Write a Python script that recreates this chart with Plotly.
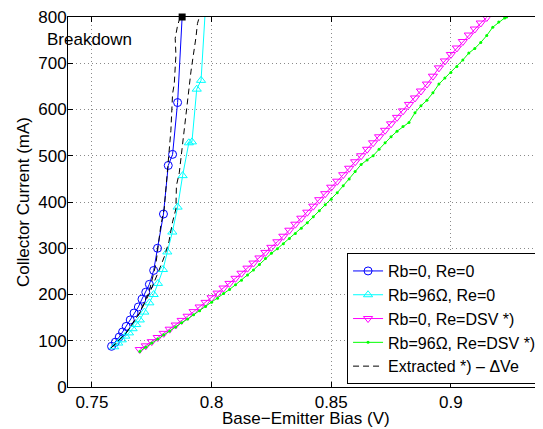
import plotly.graph_objects as go

# ---------------- data ----------------
blue_x = [0.7582, 0.7598, 0.7614, 0.7628, 0.7643, 0.7660, 0.7676, 0.7694, 0.7709,
          0.7725, 0.7740, 0.7758, 0.7774, 0.7799, 0.7819, 0.7837, 0.7858]
blue_y = [88, 97, 108, 119, 131, 145, 160, 173, 190, 205, 222, 252, 300, 374, 479, 503, 615]
blue_end_x = [0.7858, 0.7877]
blue_end_y = [615, 800]

cyan_x = [0.7593, 0.7610, 0.7625, 0.7640, 0.7655, 0.7670, 0.7685, 0.7700, 0.7719, 0.7740,
          0.7758, 0.7776, 0.7797, 0.7815, 0.7836, 0.7858, 0.7879, 0.7905, 0.7918, 0.7938, 0.7956]
cyan_y = [87, 95, 102, 110, 117, 126, 135, 145, 162, 182, 200, 224, 254, 292, 335, 389,
          457, 528, 530, 644, 663]
cyan_end_x = [0.7956, 0.7972]
cyan_end_y = [663, 800]

mag_x = [0.7700, 0.7725, 0.7750, 0.7775, 0.7800, 0.7825, 0.7850, 0.7875, 0.7900, 0.7925,
         0.7950, 0.7975, 0.8000, 0.8025, 0.8050, 0.8075, 0.8100, 0.8125, 0.8150, 0.8175,
         0.8200, 0.8225, 0.8250, 0.8275, 0.8300, 0.8325, 0.8350, 0.8375, 0.8400, 0.8425,
         0.8450, 0.8475, 0.8500, 0.8525, 0.8550, 0.8575, 0.8600, 0.8625, 0.8650, 0.8675,
         0.8700, 0.8725, 0.8750, 0.8775, 0.8800, 0.8825, 0.8850, 0.8875, 0.8900, 0.8925,
         0.8950, 0.8975, 0.9000, 0.9025, 0.9050, 0.9075, 0.9100, 0.9125, 0.9150]
mag_y = [81, 89, 98, 107, 116, 125, 134, 144, 153, 163,
         173, 183, 193, 203, 214, 224, 235, 246, 257, 268,
         279, 291, 302, 314, 326, 339, 352, 365, 378, 391,
         405, 418, 432, 445, 459, 473, 487, 500, 514, 528,
         541, 555, 569, 583, 597, 611, 625, 640, 655, 672,
         690, 705, 719, 733, 747, 761, 774, 787, 799]

green_x = [0.7700, 0.7725, 0.7750, 0.7775, 0.7800, 0.7825, 0.7850, 0.7875, 0.7900, 0.7925,
           0.7950, 0.7975, 0.8000, 0.8025, 0.8050, 0.8075, 0.8100, 0.8125, 0.8150, 0.8175,
           0.8200, 0.8225, 0.8250, 0.8275, 0.8300, 0.8325, 0.8350, 0.8375, 0.8400, 0.8425,
           0.8450, 0.8475, 0.8500, 0.8525, 0.8550, 0.8575, 0.8600, 0.8625, 0.8650, 0.8675,
           0.8700, 0.8725, 0.8750, 0.8775, 0.8800, 0.8825, 0.8850, 0.8875, 0.8900, 0.8925,
           0.8950, 0.8975, 0.9000, 0.9025, 0.9050, 0.9075, 0.9100, 0.9125, 0.9150, 0.9175,
           0.9200, 0.9225, 0.9233]
green_y = [77, 86, 95, 104, 113, 121, 130, 139, 147, 156,
           165, 174, 183, 192, 202, 211, 221, 231, 242, 253,
           265, 278, 289, 299, 310, 321, 332, 343, 355, 368,
           381, 394, 406, 420, 435, 450, 466, 481, 491, 500,
           514, 528, 541, 553, 563, 572, 593, 608, 620, 636,
           655, 668, 680, 693, 707, 722, 732, 745, 760, 778,
           789, 798, 800]

ext1_x = [0.7579, 0.7642, 0.7698, 0.7740, 0.7767, 0.7788, 0.7802, 0.7816, 0.7830,
          0.7837, 0.7844, 0.7851, 0.7848, 0.7858, 0.7869]
ext1_y = [84, 116, 159, 208, 265, 350, 385, 478, 555, 634, 655, 718, 754, 782, 800]

ext2_x = [0.7585, 0.7645, 0.7700, 0.7745, 0.7780, 0.7805, 0.7822, 0.7837, 0.7851, 0.7853,
          0.7865, 0.7879, 0.7886, 0.7900, 0.7914, 0.7935, 0.7941, 0.7949]
ext2_y = [86, 118, 160, 208, 252, 285, 315, 357, 385, 435, 463, 527, 555, 626, 683, 757, 786, 800]

breakdown_x = [0.7877]
breakdown_y = [800]

x_ticks = [0.75, 0.8, 0.85, 0.9]
y_ticks = [0, 100, 200, 300, 400, 500, 600, 700, 800]

FONT = "Liberation Sans, Arial, Helvetica, sans-serif"
FS = 17

fig = go.Figure()

fig.add_trace(go.Scatter(x=blue_x, y=blue_y, mode="lines+markers", name="Rb=0, Re=0",
                         legendgroup="b",
                         line=dict(color="#0000ff", width=1),
                         marker=dict(symbol="circle-open", size=8, color="#0000ff",
                                     line=dict(width=1, color="#0000ff"))))
fig.add_trace(go.Scatter(x=blue_end_x, y=blue_end_y, mode="lines", showlegend=False,
                         legendgroup="b", line=dict(color="#0000ff", width=1)))

fig.add_trace(go.Scatter(x=cyan_x, y=cyan_y, mode="lines+markers", name="Rb=96Ω, Re=0",
                         legendgroup="c",
                         line=dict(color="#00ffff", width=1),
                         marker=dict(symbol="triangle-up-open", size=8, color="#00ffff",
                                     line=dict(width=1, color="#00ffff"))))
fig.add_trace(go.Scatter(x=cyan_end_x, y=cyan_end_y, mode="lines", showlegend=False,
                         legendgroup="c", line=dict(color="#00ffff", width=1)))

fig.add_trace(go.Scatter(x=mag_x, y=mag_y, mode="lines+markers", name="Rb=0, Re=DSV *)",
                         line=dict(color="#ff00ff", width=1),
                         marker=dict(symbol="triangle-down-open", size=8, color="#ff00ff",
                                     line=dict(width=1, color="#ff00ff"))))

fig.add_trace(go.Scatter(x=green_x, y=green_y, mode="lines+markers", name="Rb=96Ω, Re=DSV *)",
                         line=dict(color="#00ff00", width=1),
                         marker=dict(symbol="circle", size=3, color="#00ff00")))

fig.add_trace(go.Scatter(x=ext1_x, y=ext1_y, mode="lines", name="Extracted *) – ΔVe",
                         legendgroup="e",
                         line=dict(color="#000000", width=1, dash="6px,4px")))
fig.add_trace(go.Scatter(x=ext2_x, y=ext2_y, mode="lines", showlegend=False,
                         legendgroup="e",
                         line=dict(color="#000000", width=1, dash="6px,4px")))

fig.add_trace(go.Scatter(x=breakdown_x, y=breakdown_y, mode="markers", showlegend=False,
                         cliponaxis=False,
                         marker=dict(symbol="square", size=7, color="#000000")))

fig.add_annotation(text="Breakdown", xref="paper", yref="paper",
                   x=-0.0493, y=0.938, xanchor="left", yanchor="middle",
                   showarrow=False, font=dict(family=FONT, size=FS, color="black"))

fig.add_annotation(text="Collector Current (mA)", xref="paper", yref="paper",
                   x=-0.0946, y=0.5, xanchor="center", yanchor="middle", textangle=-90,
                   showarrow=False, font=dict(family=FONT, size=FS, color="black"))

fig.add_annotation(text="Base−Emitter Bias (V)", xref="paper", yref="paper",
                   x=0.5, y=-0.085, xanchor="center", yanchor="middle",
                   showarrow=False, font=dict(family=FONT, size=FS, color="black"))

grid = dict(showgrid=True, gridcolor="#8a8a8a", gridwidth=1, griddash="1px,3px")

fig.update_xaxes(range=[0.74, 0.9385], tickvals=x_ticks,
                 ticktext=[str(v) for v in x_ticks],
                 ticks="inside", ticklen=5, tickcolor="black",
                 showline=True, linecolor="black", linewidth=1, mirror="ticks",
                 zeroline=False, ticklabeloverflow="allow",
                 tickfont=dict(family=FONT, size=FS, color="black"),
                 **grid)
fig.update_yaxes(range=[0, 800], tickvals=y_ticks,
                 ticks="inside", ticklen=5, tickcolor="black",
                 showline=True, linecolor="black", linewidth=1, mirror=False,
                 zeroline=False, ticklabelstandoff=-3, ticklabeloverflow="allow",
                 tickfont=dict(family=FONT, size=FS, color="black"),
                 **grid)

# the page body has an 8px margin, so the figure is laid out 8px smaller
fig.update_layout(
    width=535, height=421,
    margin=dict(l=60.4, r=0, t=4.3, b=41.7, pad=0),
    paper_bgcolor="white", plot_bgcolor="white",
    font=dict(family=FONT, size=FS, color="black"),
    showlegend=True,
    legend=dict(x=0.998, y=0.008, xanchor="right", yanchor="bottom",
                bgcolor="white", bordercolor="black", borderwidth=1,
                font=dict(family=FONT, size=16, color="black"),
                tracegroupgap=0, itemwidth=30, entrywidth=205),
)

fig.write_html("out.html")
